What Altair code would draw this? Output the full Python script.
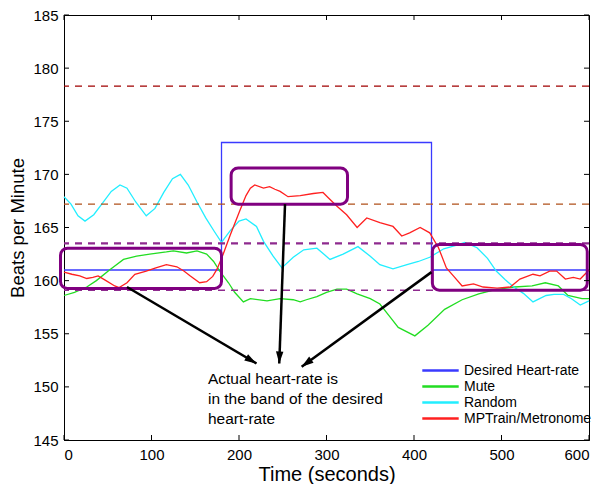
import math
import altair as alt
import pandas as pd

FONT = "Liberation Sans"

# ---------------- data ----------------
series_names = ["Desired Heart-rate", "Mute", "Random", "MPTrain/Metronome"]
series_colors = ["#3a3aff", "#22dd22", "#22eeff", "#ff2020"]

desired_t = [0, 180, 180, 420, 420, 600]
desired_hr = [161, 161, 173, 173, 161, 161]

mute_t = [0, 12, 26, 37, 52, 68, 83, 98, 117, 125, 140, 152, 163, 171, 178, 188, 195, 205,
          213, 232, 247, 262, 270, 277, 289, 300, 312, 323, 335, 350, 361, 373, 382, 401,
          416, 435, 455, 474, 493, 515, 535, 550, 565, 576, 592, 600]
mute_hr = [158.6, 158.9, 159.4, 160.0, 161.0, 162.0, 162.3, 162.5, 162.7, 162.8, 162.6, 162.8,
           162.5, 161.8, 160.9, 159.8, 158.9, 158.0, 158.3, 158.1, 158.3, 158.2, 158.0, 158.2,
           158.5, 158.9, 159.2, 159.2, 158.75, 158.3, 157.8, 156.55, 155.6, 154.8, 155.8,
           157.3, 158.2, 158.75, 159.15, 159.4, 159.5, 159.8, 159.5, 158.6, 158.3, 158.3]

random_t = [0, 8, 16, 24, 34, 44, 54, 64, 72, 82, 94, 104, 114, 124, 133, 142, 152, 162, 172,
            180, 190, 200, 208, 220, 228, 239, 249, 262, 274, 289, 304, 319, 336, 350, 361,
            376, 392, 405, 418, 434, 447, 458, 472, 484, 494, 504, 514, 525, 536, 551, 560,
            571, 580, 590, 600]
random_hr = [167.9, 167.2, 166.1, 165.6, 166.2, 167.3, 168.4, 169.0, 168.7, 167.4, 166.1,
             166.8, 168.3, 169.6, 170.0, 169.0, 167.4, 165.9, 164.6, 163.6, 164.7, 165.6,
             165.8, 165.1, 163.7, 162.3, 161.2, 162.2, 162.9, 163.05, 162.0, 162.5, 163.2,
             162.3, 161.5, 161.1, 161.5, 161.8, 162.2, 163.0, 163.3, 163.6, 163.1, 162.1,
             160.9, 160.1, 159.4, 158.8, 158.0, 158.6, 158.7, 158.7, 158.3, 157.7, 158.1]

mp_t = [0, 9, 18, 26, 33, 39, 48, 58, 63, 72, 81, 94, 105, 117, 129, 137, 144, 155, 163, 170,
        175, 182, 190, 201, 208, 213, 218, 228, 235, 241, 247, 256, 270, 285, 296, 302, 312,
        323, 335, 346, 361, 376, 386, 395, 407, 418, 428, 437, 445, 455, 468, 479, 495, 510,
        521, 536, 544, 555, 563, 573, 582, 590, 600]
mp_hr = [160.8, 160.6, 160.45, 160.2, 160.3, 160.45, 160.0, 159.5, 159.35, 159.8, 160.6, 160.9,
         161.2, 161.5, 161.3, 160.9, 160.45, 159.8, 159.9, 160.4, 161.1, 162.5, 164.3, 166.6,
         168.0, 168.7, 169.0, 168.7, 168.85, 168.6, 168.4, 167.9, 168.0, 168.2, 168.3, 167.8,
         167.0, 166.2, 165.0, 165.9, 165.45, 165.1, 164.2, 164.5, 165.0, 164.5, 163.1, 161.2,
         160.45, 159.5, 159.7, 159.4, 159.3, 159.4, 160.15, 160.6, 160.45, 160.9, 160.9,
         160.15, 160.3, 160.15, 161.0]

# dashed reference levels (top to bottom)
band_hr = [178.3, 167.2, 163.5, 159.1]

# highlight boxes: t0, t1, hr0, hr1
box_t0 = [-4, 191, 421]
box_t1 = [180, 324, 598]
box_hr0 = [159.27, 167.2, 159.1]
box_hr1 = [163.05, 170.6, 163.4]

# arrows: from (t, hr) to (t2, hr2)
arrow_t = [72, 252.6, 420]
arrow_hr = [159.4, 167.2, 160.8]
arrow_t2 = [220, 246, 271.6]
arrow_hr2 = [152.2, 152.2, 151.9]

anno_lines = ["Actual heart-rate is", "in the band of the desired", "heart-rate"]
anno_t = 164.5
anno_hr = 150.25

x_ticks = [0, 100, 200, 300, 400, 500, 600]
y_ticks = [145, 150, 155, 160, 165, 170, 175, 180, 185]

# ---------------- chart ----------------
W, H = 525, 425
X_DOM = [0, 600]
Y_DOM = [145, 185]
xs = alt.Scale(domain=X_DOM, nice=False, zero=False)
ys = alt.Scale(domain=Y_DOM, nice=False, zero=False)
px_per_t = W / (X_DOM[1] - X_DOM[0])
px_per_hr = H / (Y_DOM[1] - Y_DOM[0])

X_AX = alt.Axis(title="Time (seconds)", values=x_ticks, titleFontSize=20,
                labelPadding=7, titlePadding=2)
Y_AX = alt.Axis(title="Beats per Minute", values=y_ticks, titleFontSize=18.5,
                labelPadding=6, titlePadding=5)


def X(field):
    return alt.X(field, scale=xs, axis=X_AX)


def Y(field):
    return alt.Y(field, scale=ys, axis=Y_AX)


rows = []
for name, ts, hs in zip(series_names, [desired_t, mute_t, random_t, mp_t],
                        [desired_hr, mute_hr, random_hr, mp_hr]):
    for i, (t, h) in enumerate(zip(ts, hs)):
        rows.append({"series": name, "t": t, "hr": h, "idx": i})
lines_df = pd.DataFrame(rows)

lines = alt.Chart(lines_df).mark_line(strokeWidth=1.3).encode(
    x=X("t:Q"),
    y=Y("hr:Q"),
    color=alt.Color("series:N",
                    scale=alt.Scale(domain=series_names, range=series_colors),
                    sort=series_names,
                    legend=alt.Legend(title=None, orient="none", legendX=368, legendY=347,
                                      symbolType="M-2.6,0L2.6,0", symbolSize=196,
                                      symbolStrokeWidth=2.5, labelFontSize=14,
                                      labelFont=FONT, labelColor="black",
                                      rowPadding=0, labelOffset=15, padding=0)),
    detail="series:N",
    order="idx:Q",
)

band_styles = [("#a00000", 1.3, [7, 6]), ("#b0501a", 1.3, [7, 6]),
               ("#8e2a8e", 2.2, [7, 6]), ("#8e2a8e", 1.5, [7, 6])]
bands = []
for v, (c, w, d) in zip(band_hr, band_styles):
    bands.append(alt.Chart(pd.DataFrame({"hr": [v]})).mark_rule(
        color=c, strokeWidth=w, strokeDash=d).encode(y=Y("hr:Q")))

boxes_df = pd.DataFrame({"t0": box_t0, "t1": box_t1, "h0": box_hr0, "h1": box_hr1})
boxes = alt.Chart(boxes_df).mark_rect(
    fillOpacity=0, stroke="#800080", strokeWidth=3, cornerRadius=7).encode(
    x=X("t0:Q"), x2="t1:Q", y=Y("h0:Q"), y2="h1:Q")

arrows_df = pd.DataFrame({"t": arrow_t, "hr": arrow_hr, "t2": arrow_t2, "hr2": arrow_hr2})
arrow_lines = alt.Chart(arrows_df).mark_rule(color="black", strokeWidth=2.5).encode(
    x=X("t:Q"), x2="t2:Q", y=Y("hr:Q"), y2="hr2:Q")

HEAD = 12
heads = []
for t, h, t2, h2 in zip(arrow_t, arrow_hr, arrow_t2, arrow_hr2):
    dx = (t2 - t) * px_per_t
    dy = -(h2 - h) * px_per_hr
    ln = math.hypot(dx, dy)
    ux, uy = dx / ln, dy / ln
    ang = math.degrees(math.atan2(dx, -dy)) % 360
    ct = t2 - ux * HEAD / 2 / px_per_t
    ch = h2 + uy * HEAD / 2 / px_per_hr
    heads.append({"t": ct, "hr": ch, "ang": ang})
heads_df = pd.DataFrame(heads)
arrow_heads = alt.Chart(heads_df).mark_point(
    shape="M0,-1L0.62,1L-0.62,1Z", filled=True, color="black", opacity=1,
    size=HEAD * HEAD).encode(
    x=X("t:Q"), y=Y("hr:Q"),
    angle=alt.Angle("ang:Q", scale=None))

anno = alt.Chart(pd.DataFrame({"t": [anno_t], "hr": [anno_hr],
                               "txt": ["\n".join(anno_lines)]})).mark_text(
    align="left", baseline="alphabetic", lineBreak="\n", lineHeight=20,
    font=FONT, fontSize=15.5, color="black").encode(
    x=X("t:Q"), y=Y("hr:Q"), text="txt:N")

# inward ticks on all four sides (MATLAB style)
xt = pd.DataFrame({"t": x_ticks})
yt = pd.DataFrame({"hr": y_ticks})
tick_bottom = alt.Chart(xt).mark_rule(color="black").encode(
    x=X("t:Q"), y=alt.value(H), y2=alt.value(H - 5))
tick_top = alt.Chart(xt).mark_rule(color="black").encode(
    x=X("t:Q"), y=alt.value(0), y2=alt.value(5))
tick_left = alt.Chart(yt).mark_rule(color="black").encode(
    y=Y("hr:Q"), x=alt.value(0), x2=alt.value(5))
tick_right = alt.Chart(yt).mark_rule(color="black").encode(
    y=Y("hr:Q"), x=alt.value(W), x2=alt.value(W - 5))

chart = alt.layer(
    lines, *bands, boxes, arrow_lines, arrow_heads, anno,
    tick_bottom, tick_top, tick_left, tick_right,
).properties(
    width=W, height=H,
    autosize=alt.AutoSizeParams(type="none"),
    padding={"left": 56, "top": 7, "right": 14, "bottom": 44},
    background="white",
).configure_view(
    stroke="black", strokeWidth=1
).configure_axis(
    domainColor="black", domainWidth=1, labelColor="black", labelFont=FONT,
    titleFont=FONT, labelFontSize=15, ticks=False, grid=False,
    titleFontWeight="normal", titleColor="black",
)

chart.save("out.html", embed_options={"renderer": "svg", "actions": False})
